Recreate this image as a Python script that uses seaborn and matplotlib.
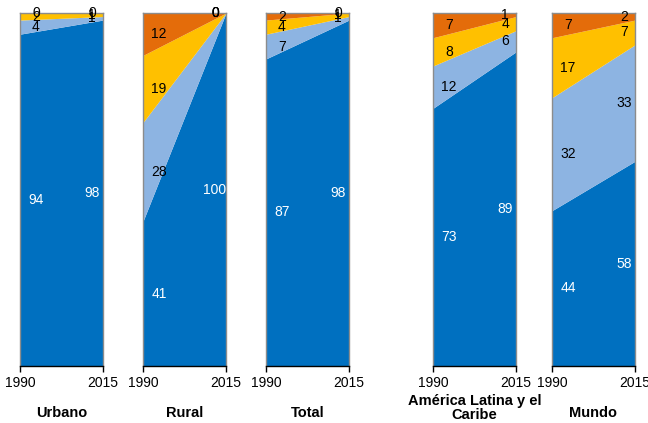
import matplotlib
matplotlib.use("Agg")
import matplotlib.pyplot as plt
import seaborn as sns

# ---------- data (percent of population, 1990 and 2015) ----------
years = [1990, 2015]
panels = ["Urbano", "Rural", "Total", "América Latina y el\nCaribe", "Mundo"]

# layers bottom -> top
dark_blue = {"Urbano": [94, 98], "Rural": [41, 100], "Total": [87, 98],
             "América Latina y el\nCaribe": [73, 89], "Mundo": [44, 58]}
light_blue = {"Urbano": [4, 1], "Rural": [28, 0], "Total": [7, 1],
              "América Latina y el\nCaribe": [12, 6], "Mundo": [32, 33]}
yellow = {"Urbano": [2, 1], "Rural": [19, 0], "Total": [4, 1],
          "América Latina y el\nCaribe": [8, 4], "Mundo": [17, 7]}
orange = {"Urbano": [0, 0], "Rural": [12, 0], "Total": [2, 0],
          "América Latina y el\nCaribe": [7, 1], "Mundo": [7, 2]}

colors = ["#0070C0", "#8DB4E2", "#FFC000", "#E46C0A"]
text_colors = ["white", "black", "black", "black"]

sns.set_theme(style="white")
plt.rcParams["font.family"] = ["Liberation Sans", "DejaVu Sans"]
plt.rcParams["text.color"] = "black"
plt.rcParams["xtick.color"] = "black"

fig = plt.figure(figsize=(6.48, 4.23), dpi=100)

lefts = [20, 143, 266, 433, 552]
width_px = 83
bottom = 1 - 366 / 423
height = (366 - 13) / 423

for name, lpx in zip(panels, lefts):
    ax = fig.add_axes([lpx / 648, bottom, width_px / 648, height])
    layers = [dark_blue[name], light_blue[name], yellow[name], orange[name]]
    ax.stackplot(years, *layers, colors=colors, linewidth=0)
    ax.set_xlim(1990, 2015)
    ax.set_ylim(0, 100)
    ax.set_yticks([])
    ax.set_xticks(years)
    ax.set_xticklabels([str(y) for y in years], fontsize=10, color="black")
    ax.tick_params(axis="x", direction="out", length=4, width=1, color="black",
                   bottom=True, pad=3)
    for side in ["left", "right", "top"]:
        ax.spines[side].set_color("#8c8c8c")
        ax.spines[side].set_linewidth(1)
    ax.spines["bottom"].set_color("black")
    ax.spines["bottom"].set_linewidth(1)

    # value labels at the middle of each layer
    for i, yr in enumerate(years):
        base = 0
        xpos = 1994.8 if i == 0 else 2011.7
        for layer, tc in zip(layers, text_colors):
            v = layer[i]
            ax.text(xpos, base + v / 2, f"{v}", ha="center", va="center",
                    fontsize=10, color=tc)
            base += v

    yt = -0.12 if "\n" in name else -0.133
    ax.text(0.5, yt, name, transform=ax.transAxes, ha="center", va="center",
            fontsize=10.5, fontweight="bold", linespacing=1.0, color="black")

fig.savefig("out.png", dpi=100)
